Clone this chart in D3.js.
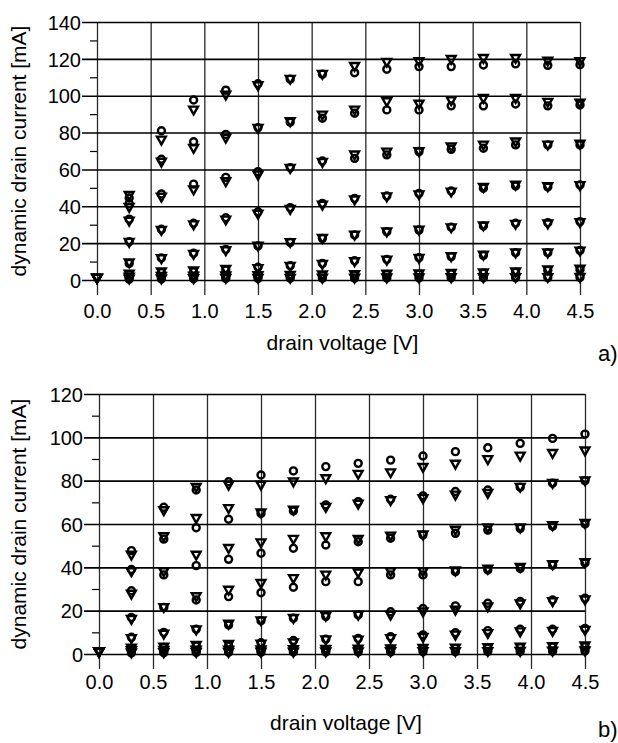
<!DOCTYPE html>
<html>
<head>
<meta charset="utf-8">
<script src="https://cdn.jsdelivr.net/npm/d3@7"></script>
<style>
  body { margin: 0; background: #fff; }
  svg { display: block; }
  text { font-family: Arial, "Liberation Sans", sans-serif; fill: #000; }
</style>
</head>
<body>
<div id="chart"></div>
<script>
// drain voltage steps, same for both panels
var voltages = [0.0, 0.3, 0.6, 0.9, 1.2, 1.5, 1.8, 2.1, 2.4, 2.7, 3.0, 3.3, 3.6, 3.9, 4.2, 4.5];

var xTicks = [0.0, 0.5, 1.0, 1.5, 2.0, 2.5, 3.0, 3.5, 4.0, 4.5];
var yTicksA = [0, 20, 40, 60, 80, 100, 120, 140];
var yMinorA = [10, 30, 50, 70, 90, 110, 130];
var yTicksB = [0, 20, 40, 60, 80, 100, 120];
var yMinorB = [10, 30, 50, 70, 90, 110];

// panel a) measured (circles), one row per gate bias curve
var circlesA = [
  [null, 44.5, 81, 97.7, 103, 106.5, 109, 111.7, 112.5, 114.4, 115.8, 115.8, 116.7, 117.3, 116.5, 116.8],
  [null, 41.5, 65.5, 75, 79, 82.7, 85.6, 87.8, 90.5, 92.3, 92.3, 94.5, 94.5, 95.5, 94.5, 95],
  [null, 33, 46.7, 52, 55.7, 58.8, 61, 64.6, 66, 67.9, 69.7, 70.9, 71.5, 73.3, 73.3, 73.3],
  [null, 20.8, 27.5, 30.8, 33.8, 37, 39.3, 41.6, 44.3, 45.6, 47, 48.3, 49.8, 51, 50.5, 51.6],
  [null, 9, 12, 14.5, 16.6, 18.5, 20.4, 22.6, 24.4, 26.2, 27.1, 28.6, 29.3, 30.8, 31.1, 31.7],
  [null, 3, 4, 4.5, 5.4, 6.9, 7.8, 9, 10.5, 11.2, 12.1, 12.7, 13.3, 14.8, 14.8, 16],
  [null, 1.5, 1.5, 1.8, 2, 2, 2.3, 2.5, 2.7, 3, 3.2, 3.4, 3.7, 4.2, 5.2, 5.6],
  [null, 0.5, 0.6, 0.7, 0.8, 0.9, 1, 1, 1, 1.1, 1.1, 1.2, 1.2, 1.3, 1.3, 1.4]
];

// panel a) simulated (inverted triangles)
var trianglesA = [
  [1, 46, 76, 92.3, 100.4, 105.5, 109, 111.7, 116, 118.2, 118.5, 119.8, 120.3, 120.3, 118.8, 118.5],
  [1, 39.5, 64, 71.5, 77, 82.3, 86, 89.6, 92.3, 96.8, 95.5, 97.4, 98.6, 98.6, 96.5, 96],
  [1, 32, 45, 49, 53.4, 57, 60.6, 63.9, 67.9, 69.5, 69.7, 72.3, 73.3, 75, 73.3, 73.8],
  [1, 20.5, 27, 30, 32.6, 35.8, 38.4, 40.7, 43.5, 45.2, 46.3, 47.8, 50.3, 51.5, 50.7, 51.3],
  [1, 9.4, 11.6, 14, 16, 18.5, 20.4, 22.6, 24.4, 26.2, 27.1, 28.4, 29.5, 30.3, 30.5, 31.2],
  [1, 3.2, 4.5, 5, 5.8, 6.3, 7.4, 8.5, 10, 10.8, 11.8, 12.7, 13.6, 14.8, 14.8, 15.8],
  [1, 1.6, 2, 2.2, 2.3, 2.4, 2.6, 2.8, 3, 3.2, 3.4, 3.6, 4, 4.5, 5.6, 6],
  [1, 0.6, 0.7, 0.8, 0.9, 1, 1, 1.1, 1.1, 1.2, 1.2, 1.3, 1.3, 1.4, 1.4, 1.5]
];

// panel b) measured (circles)
var circlesB = [
  [null, 47.7, 67.7, 75.7, 79.5, 82.6, 84.5, 86.5, 88, 89.5, 91.4, 93.4, 95.2, 97.2, 99.5, 101.5],
  [null, 39, 53, 58.3, 62.2, 64.9, 66, 68.8, 70.3, 71.4, 73, 75, 75.7, 77, 78.8, 80],
  [null, 29.2, 36.5, 40.8, 43.7, 46.5, 48.8, 50.3, 51.8, 53.4, 55, 55.7, 57.2, 58, 59, 60],
  [null, 16.9, 21.5, 24.9, 26.5, 28.3, 30.8, 33.4, 33.4, 36.5, 36.5, 38, 38.8, 39.5, 41, 42],
  [null, 7.7, 10, 11.5, 13.4, 15.4, 16.5, 17.3, 18, 19.5, 21, 22.2, 23.4, 24.2, 24.9, 25.7],
  [null, 2.6, 3, 3.7, 3.7, 5.2, 6.2, 6.8, 7.2, 8, 8.8, 9.8, 10.8, 11.4, 11.4, 11.8],
  [null, 1.5, 1.5, 1.6, 1.7, 1.8, 2, 2.1, 2.2, 2.3, 2.4, 2.6, 2.8, 3, 3.2, 3.4],
  [null, 0.5, 0.6, 0.7, 0.8, 0.8, 0.9, 0.9, 1, 1, 1.1, 1.1, 1.2, 1.2, 1.3, 1.4]
];

// panel b) simulated (inverted triangles)
var trianglesB = [
  [1, 45.7, 66.2, 77, 78, 78, 79.5, 81, 83, 83.7, 86.2, 87.7, 89.8, 91.4, 92.6, 93.8],
  [1, 38, 54.2, 62.6, 67.2, 65.2, 66.5, 67.7, 69.2, 70.8, 71.8, 73.4, 74.2, 77, 78.8, 80],
  [1, 27.7, 38, 45.7, 48.8, 51.4, 53, 54.2, 53, 54.5, 55, 57.2, 58.3, 58.3, 59.3, 60.3],
  [1, 16, 21.5, 26.5, 29.5, 32.6, 34.9, 36.5, 37.5, 38, 38, 38.4, 39.2, 40, 41.3, 42.2],
  [1, 7.2, 9.2, 11.2, 13.8, 15.4, 16.5, 17.5, 18, 18, 19.5, 20.3, 21.8, 23.2, 24.2, 25],
  [1, 2.8, 3.2, 4, 4.5, 4.6, 5.2, 6.6, 6.5, 7.2, 7.7, 8.8, 9.5, 10.3, 10.5, 11],
  [1, 1.6, 1.7, 1.8, 1.9, 2, 2.1, 2.2, 2.3, 2.4, 2.6, 2.8, 3, 3.2, 3.5, 3.8],
  [1, 0.6, 0.7, 0.8, 0.8, 0.9, 0.9, 1, 1, 1.1, 1.1, 1.2, 1.2, 1.3, 1.4, 1.5]
];

var svg = d3.select('#chart').append('svg')
  .attr('width', 618)
  .attr('height', 743);

function toPoints(rows) {
  var pts = [];
  rows.forEach(function (row) {
    row.forEach(function (v, i) {
      if (v !== null) pts.push({ x: voltages[i], y: v });
    });
  });
  return pts;
}

var triPath = 'M-4.4,-3.3L4.4,-3.3L0,4.5Z';

function panel(p) {
  var x = d3.scaleLinear().domain([0, 4.5]).range([p.left, p.right]);
  var y = d3.scaleLinear().domain([0, p.yMax]).range([p.bottom, p.top]);
  var w = p.right - p.left, h = p.bottom - p.top;

  var g = svg.append('g');

  // vertical grid, runs a little below the zero line
  g.append('g')
    .attr('transform', 'translate(0,' + (p.bottom + 15) + ')')
    .call(d3.axisBottom(x).tickValues(xTicks).tickSize(-(h + 15)).tickFormat(''))
    .call(function (s) { s.select('.domain').remove(); })
    .selectAll('line').attr('stroke', '#2a2a2a').attr('stroke-width', 1.3);

  // horizontal grid + outward major ticks
  g.append('g')
    .attr('transform', 'translate(' + p.right + ',0)')
    .call(d3.axisLeft(y).tickValues(p.yTicks).tickSize(w + 15).tickFormat(''))
    .call(function (s) { s.select('.domain').remove(); })
    .selectAll('line').attr('stroke', '#000').attr('stroke-width', 1.6);

  // minor ticks
  g.append('g')
    .attr('transform', 'translate(' + p.left + ',0)')
    .call(d3.axisLeft(y).tickValues(p.yMinor).tickSize(7).tickFormat(''))
    .call(function (s) { s.select('.domain').remove(); })
    .selectAll('line').attr('stroke', '#000').attr('stroke-width', 1.2);

  // tick labels
  var ya = g.append('g')
    .attr('transform', 'translate(' + p.left + ',0)')
    .call(d3.axisLeft(y).tickValues(p.yTicks).tickSize(15).tickPadding(1));
  ya.select('.domain').remove();
  ya.selectAll('line').remove();
  ya.selectAll('text').attr('font-size', 20).attr('font-family', 'Arial, "Liberation Sans", sans-serif').attr('dy', '0.36em');

  var xa = g.append('g')
    .attr('transform', 'translate(0,' + p.bottom + ')')
    .call(d3.axisBottom(x).tickValues(xTicks).tickSize(15).tickPadding(p.xPad).tickFormat(d3.format('.1f')));
  xa.select('.domain').remove();
  xa.selectAll('line').remove();
  xa.selectAll('text').attr('font-size', 20).attr('font-family', 'Arial, "Liberation Sans", sans-serif');

  // titles
  g.append('text')
    .attr('x', (p.left + p.right) / 2 + 4)
    .attr('y', p.xTitleY)
    .attr('text-anchor', 'middle')
    .attr('font-size', 21)
    .text('drain voltage [V]');

  g.append('text')
    .attr('transform', 'translate(' + p.yTitleX + ',' + ((p.top + p.bottom) / 2) + ') rotate(-90)')
    .attr('text-anchor', 'middle')
    .attr('font-size', 21)
    .text('dynamic drain current [mA]');

  g.append('text')
    .attr('x', 598)
    .attr('y', p.tagY)
    .attr('font-size', 22)
    .attr('font-family', '"Liberation Serif", "Times New Roman", serif')
    .text(p.tag);

  // markers
  g.append('g').selectAll('path')
    .data(toPoints(p.triangles))
    .enter().append('path')
    .attr('d', triPath)
    .attr('transform', function (d) { return 'translate(' + x(d.x) + ',' + y(d.y) + ')'; })
    .attr('fill', 'none')
    .attr('stroke', '#000')
    .attr('stroke-width', 2.4);

  g.append('g').selectAll('circle')
    .data(toPoints(p.circles))
    .enter().append('circle')
    .attr('cx', function (d) { return x(d.x); })
    .attr('cy', function (d) { return y(d.y); })
    .attr('r', 3.5)
    .attr('fill', 'none')
    .attr('stroke', '#000')
    .attr('stroke-width', 2.4);
}

panel({
  left: 97, right: 580, top: 22, bottom: 280, yMax: 140,
  yTicks: yTicksA, yMinor: yMinorA, xPad: 9,
  xTitleY: 350, yTitleX: 26, tagY: 361, tag: 'a)',
  circles: circlesA, triangles: trianglesA
});

panel({
  left: 99, right: 585, top: 394, bottom: 654, yMax: 120,
  yTicks: yTicksB, yMinor: yMinorB, xPad: 6,
  xTitleY: 730, yTitleX: 26, tagY: 737, tag: 'b)',
  circles: circlesB, triangles: trianglesB
});
</script>
</body>
</html>
